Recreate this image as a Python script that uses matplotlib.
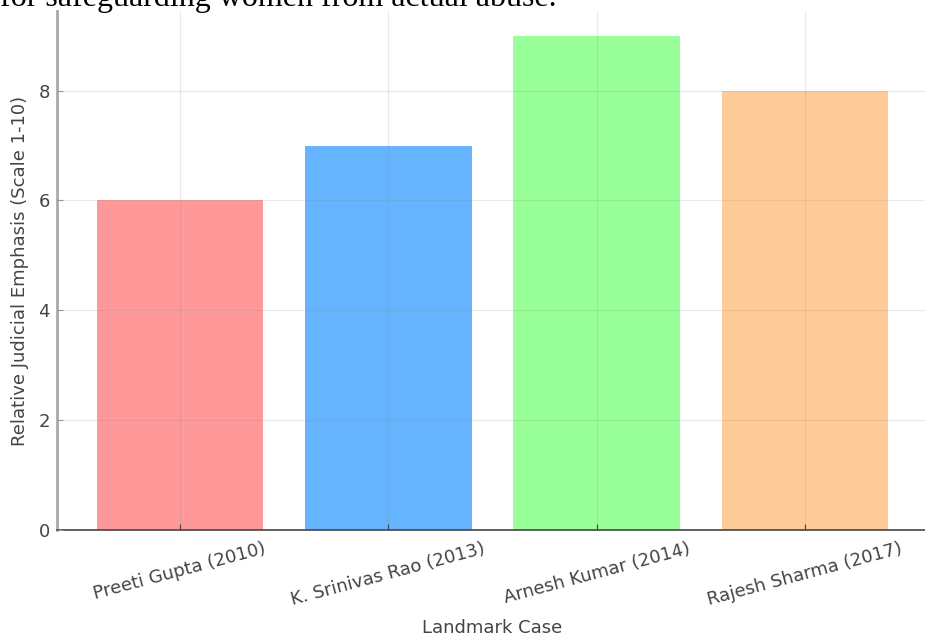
import matplotlib
matplotlib.use("Agg")
import matplotlib.pyplot as plt

cases = ["Preeti Gupta (2010)", "K. Srinivas Rao (2013)", "Arnesh Kumar (2014)", "Rajesh Sharma (2017)"]
emphasis = [6, 7, 9, 8]
colors = ["#ff9999", "#66b3ff", "#99ff99", "#ffcc99"]
yticks = [0, 2, 4, 6, 8]
header_text = "for safeguarding women from actual abuse."

fig = plt.figure(figsize=(9.25, 6.41), dpi=100)
fig.patch.set_facecolor("white")
ax = fig.add_axes([57/925, 111/641, 871/925, 519/641])

ax.bar(range(len(cases)), emphasis, color=colors, width=0.8, zorder=1)
ax.set_xlim(-0.59, 3.59)
ax.set_ylim(0, 9.45)
ax.set_xticks(range(len(cases)))
ax.set_xticklabels(cases, rotation=15, ha="center", fontsize=13, color="#444444")
ax.set_yticks(yticks)
ax.tick_params(axis="y", labelsize=13, labelcolor="#444444", direction="in", length=4, color="#999999", pad=5)
ax.tick_params(axis="x", direction="in", length=4, color="#444444", pad=7)
ax.grid(True, color="#888888", alpha=0.18, linewidth=0.9, zorder=3)
ax.set_axisbelow(False)

for s in ["top", "right"]:
    ax.spines[s].set_visible(False)
ax.spines["left"].set_color("#aaaaaa")
ax.spines["left"].set_linewidth(2)
ax.spines["bottom"].set_color("#444444")
ax.spines["bottom"].set_linewidth(1.2)

ax.set_xlabel("Landmark Case", fontsize=13, color="#444444", labelpad=7)
ax.set_ylabel("Relative Judicial Emphasis (Scale 1-10)", fontsize=13, color="#444444", labelpad=7)

fig.text(0.0, 1 - 6/641, header_text, family="Liberation Serif", fontsize=23,
         ha="left", va="baseline", color="black")

fig.savefig("out.png", dpi=100)
